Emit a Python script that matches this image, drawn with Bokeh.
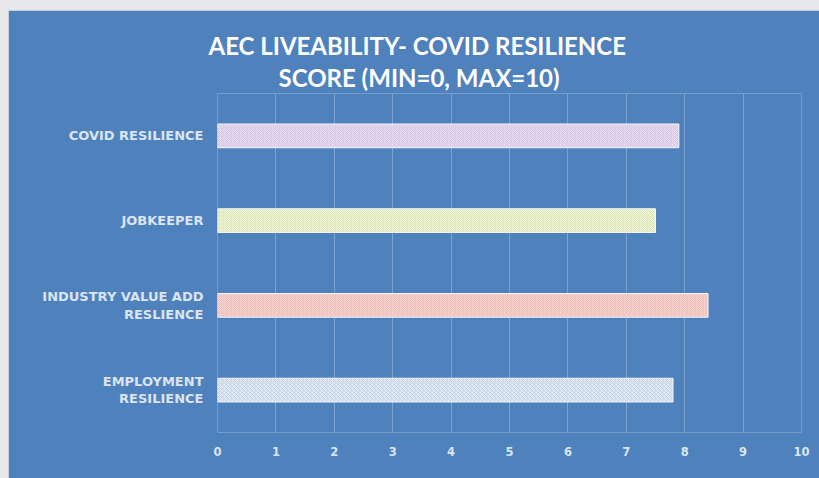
from bokeh.plotting import figure
from bokeh.models import FactorRange, ColumnDataSource, Title
from bokeh.layouts import column
from bokeh.embed import file_html
from bokeh.resources import INLINE

# ---- data ----
categories = ["EMPLOYMENT\nRESILIENCE", "INDUSTRY VALUE ADD\nRESLIENCE", "JOBKEEPER", "COVID RESILIENCE"]
scores = [7.8, 8.4, 7.5, 7.9]
fill_colors = ["#dfe8f3", "#f6d3d0", "#eef3d3", "#e6dbef"]
hatch_colors = ["#a9c0dc", "#e6a5a1", "#c8d78f", "#c7a8d8"]
x_ticks = [0, 1, 2, 3, 4, 5, 6, 7, 8, 9, 10]
title_line1 = "AEC LIVEABILITY-  COVID RESILIENCE"
title_line2 = "SCORE (MIN=0,  MAX=10)"

BG = "#4f81bd"
LABEL = "#dbe5f1"

source = ColumnDataSource(dict(cat=categories, score=scores, fill=fill_colors, hatch=hatch_colors))

p = figure(width=811, height=468,
           y_range=FactorRange(factors=categories), x_range=(0, 10),
           output_backend="svg", toolbar_location=None,
           min_border_left=209, min_border_right=18,
           min_border_top=83, min_border_bottom=46)
p.margin = (10, 0, 0, 8)
p.background_fill_color = BG
p.border_fill_color = BG
p.outline_line_color = None

p.hbar(y="cat", right="score", left=0, height=0.28, source=source,
       fill_color="fill", line_color="#f2f5fa", line_width=1,
       hatch_pattern="diagonal_cross", hatch_color="hatch",
       hatch_scale=4, hatch_weight=0.8, hatch_alpha=0.65)

p.title.visible = False
p.title.text = ""
for txt, off, sto in ((title_line2, 61, 3), (title_line1, -9, 0)):
    t = Title(text=txt, align="left", offset=off, text_font="Lato",
              text_font_style="bold", text_font_size="24px",
              text_color="#ffffff", standoff=sto)
    p.add_layout(t, "above")

p.xaxis.ticker = x_ticks
for ax in (p.xaxis, p.yaxis):
    ax.axis_line_color = None
    ax.major_tick_line_color = None
    ax.minor_tick_line_color = None
    ax.major_tick_out = 0
    ax.major_tick_in = 0
    ax.major_label_text_color = LABEL
    ax.major_label_text_font = "DejaVu Sans"
    ax.major_label_text_font_style = "bold"
p.xaxis.major_label_text_font_size = "11.5px"
p.yaxis.major_label_text_font_size = "13px"
p.yaxis.major_label_text_line_height = 1.15
p.xaxis.major_label_standoff = 14
p.yaxis.major_label_standoff = 14

p.ygrid.grid_line_color = None
p.xgrid.grid_line_color = "#7ea2cf"
p.xgrid.grid_line_width = 1

layout = column(p, styles={"background-color": "#e8e8ea"})

open("out.html", "w").write(file_html(layout, INLINE))
